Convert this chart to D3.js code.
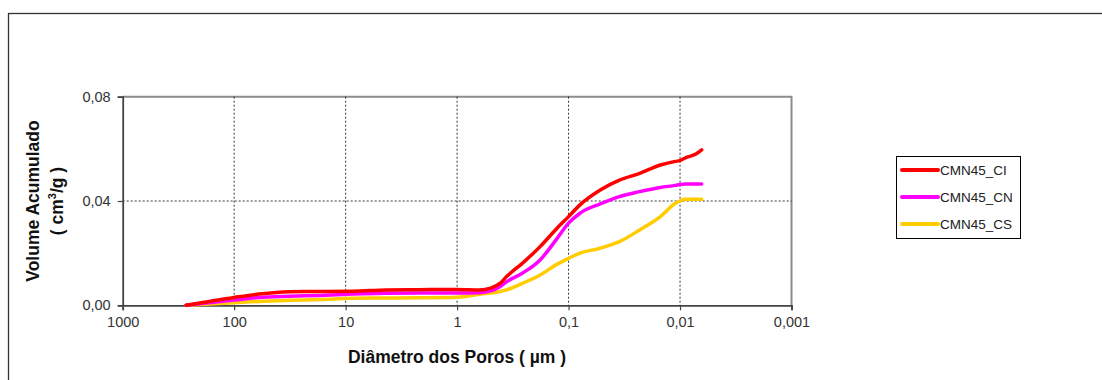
<!DOCTYPE html>
<html><head><meta charset="utf-8">
<script src="https://cdn.jsdelivr.net/npm/d3@7"></script>
<style>body{margin:0;background:#fff;}svg{display:block;font-family:"Liberation Sans",Arial,sans-serif;}</style>
</head><body><svg id="c" width="1102" height="380"></svg>
<script>
const diameters = [270, 100, 60, 32, 17, 8.6, 4.3, 2.2, 1, 0.63, 0.5, 0.41, 0.36, 0.26, 0.18, 0.13, 0.1, 0.079, 0.052, 0.035, 0.023, 0.015, 0.011, 0.01, 0.009, 0.0072, 0.0064];
const seriesNames = ["CMN45_CI", "CMN45_CN", "CMN45_CS"];
const ci = [0, 0.0030, 0.0043, 0.0052, 0.0053, 0.0054, 0.0059, 0.0060, 0.0061, 0.0059, 0.0066, 0.0085, 0.011, 0.0161, 0.0225, 0.0291, 0.034, 0.0385, 0.0442, 0.048, 0.0506, 0.0538, 0.0552, 0.0555, 0.0565, 0.058, 0.0596];
const cn = [0, 0.0020, 0.0030, 0.0035, 0.0038, 0.0043, 0.0046, 0.0047, 0.0047, 0.0048, 0.0055, 0.0072, 0.009, 0.0123, 0.0174, 0.025, 0.0315, 0.0353, 0.0389, 0.0417, 0.0436, 0.0452, 0.046, 0.0463, 0.0465, 0.0465, 0.0465];
const cs = [0, 0.0010, 0.0015, 0.0019, 0.0022, 0.0027, 0.0028, 0.0029, 0.0031, 0.0042, 0.0047, 0.0053, 0.0059, 0.0084, 0.0116, 0.0155, 0.018, 0.020, 0.0219, 0.0244, 0.0289, 0.034, 0.0391, 0.040, 0.0407, 0.0407, 0.0407];
const colors = ["#FF0000", "#FF00FF", "#FFCC00"];
const xTicks = [1000, 100, 10, 1, 0.1, 0.01, 0.001];
const xTickLabels = ["1000", "100", "10", "1", "0,1", "0,01", "0,001"];
const yTicks = [0, 0.04, 0.08];
const yTickLabels = ["0,00", "0,04", "0,08"];

const svg = d3.select("#c");
svg.append("rect").attr("x", 8.5).attr("y", 13.5).attr("width", 1200).attr("height", 500)
  .attr("fill", "#fff").attr("stroke", "#333").attr("stroke-width", 1.3);

const L = 122.7, R = 791.5, T = 96.7, B = 305.3;
const x = d3.scaleLog().domain([1000, 0.001]).range([L, R]);
const y = d3.scaleLinear().domain([0, 0.08]).range([B, T]);

svg.append("path").attr("d", `M${L},${T}H${R}V${B}`).attr("fill", "none").attr("stroke", "#8c8c8c").attr("stroke-width", 2);

const g = svg.append("g");
g.selectAll(".vg").data(xTicks.slice(1, -1)).enter().append("line")
  .attr("x1", d => x(d)).attr("x2", d => x(d)).attr("y1", T).attr("y2", B)
  .attr("stroke", "#000").attr("stroke-width", 0.8).attr("stroke-dasharray", "2,2");
g.selectAll(".hg").data(yTicks.slice(1, -1)).enter().append("line")
  .attr("x1", L).attr("x2", R).attr("y1", d => y(d)).attr("y2", d => y(d))
  .attr("stroke", "#000").attr("stroke-width", 0.8).attr("stroke-dasharray", "2,2");

const xAxis = d3.axisBottom(x).tickValues(xTicks).tickSize(5).tickPadding(6)
  .tickFormat((d, i) => xTickLabels[i]);
const gx = svg.append("g").attr("transform", `translate(0,${B})`).call(xAxis);
const yAxis = d3.axisLeft(y).tickValues(yTicks).tickSize(5).tickPadding(7)
  .tickFormat((d, i) => yTickLabels[i]);
const gy = svg.append("g").attr("transform", `translate(${L},0)`).call(yAxis);
[gx, gy].forEach(a => {
  a.select(".domain").attr("stroke", "#444").attr("stroke-width", 1.8);
  a.selectAll(".tick line").attr("stroke", "#444").attr("stroke-width", 1.2);
  a.selectAll(".tick text").attr("fill", "#333").style("font-size", "14.5px")
    .style("font-family", "'Liberation Sans',Arial,sans-serif");
});

const line = d3.line().x((d, i) => x(diameters[i])).y(d => y(d)).curve(d3.curveMonotoneX);
[cs, cn, ci].forEach((s) => {
  const k = [ci, cn, cs].indexOf(s);
  svg.append("path").datum(s).attr("d", line).attr("fill", "none")
    .attr("stroke", colors[k]).attr("stroke-width", 3.5).attr("stroke-linejoin", "round").attr("stroke-linecap", "round");
});

svg.append("text").attr("x", 457).attr("y", 363).attr("text-anchor", "middle")
  .attr("font-weight", "bold").attr("font-size", "17.5px").attr("fill", "#111")
  .text("Diâmetro dos Poros ( µm )");
const yt = svg.append("text").attr("transform", "translate(0,201) rotate(-90)")
  .attr("text-anchor", "middle").attr("font-weight", "bold").attr("font-size", "17.5px").attr("fill", "#111");
yt.append("tspan").attr("x", 0).attr("y", 39).text("Volume Acumulado");
const t2 = yt.append("tspan").attr("x", 0).attr("y", 63);
t2.append("tspan").text("( cm");
t2.append("tspan").attr("dy", -7).attr("font-size", "11px").text("3");
t2.append("tspan").attr("dy", 7).text("/g )");

const lg = svg.append("g");
lg.append("rect").attr("x", 896.5).attr("y", 156.5).attr("width", 124).attr("height", 82)
  .attr("fill", "#fff").attr("stroke", "#000").attr("stroke-width", 1);
seriesNames.forEach((n, i) => {
  const yy = 170 + i * 27;
  lg.append("line").attr("x1", 902).attr("x2", 938).attr("y1", yy).attr("y2", yy)
    .attr("stroke", colors[i]).attr("stroke-width", 4).attr("stroke-linecap", "round");
  lg.append("text").attr("x", 940).attr("y", yy + 5).attr("font-size", "13.5px").attr("fill", "#222").text(n);
});
</script></body></html>
